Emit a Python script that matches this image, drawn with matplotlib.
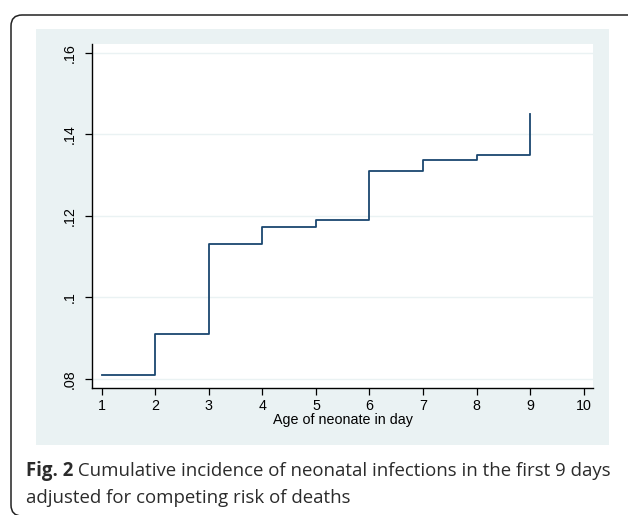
import matplotlib
matplotlib.use("Agg")
import matplotlib.pyplot as plt
from matplotlib.patches import FancyBboxPatch, Rectangle
from matplotlib.transforms import IdentityTransform

days = [1, 2, 3, 4, 5, 6, 7, 8, 9]
cif = [0.081, 0.091, 0.1132, 0.1173, 0.1189, 0.1311, 0.1336, 0.1349, 0.145]
xticks = [1, 2, 3, 4, 5, 6, 7, 8, 9, 10]
yticks = [0.08, 0.10, 0.12, 0.14, 0.16]
ylabels = [".08", ".1", ".12", ".14", ".16"]
xlabel = "Age of neonate in day"
cap_bold = "Fig. 2"
cap_line1 = " Cumulative incidence of neonatal infections in the first 9 days"
cap_line2 = "adjusted for competing risk of deaths"

W, H = 628, 515
fig = plt.figure(figsize=(W / 100, H / 100), dpi=100)
fig.patch.set_facecolor("white")

def fx(px):
    return px / W

def fy(py):
    return 1 - py / H

# outer rounded border (pixel coordinates, origin bottom-left)
border = FancyBboxPatch((11, H - 516), 700, 516 - 15,
                        boxstyle="round,pad=0,rounding_size=11",
                        transform=IdentityTransform(), facecolor="none",
                        edgecolor="#222222", linewidth=1.1, zorder=0)
fig.patches.append(border)

# Stata panel background
panel = Rectangle((fx(36), fy(445)), fx(609) - fx(36), fy(29) - fy(445),
                  transform=fig.transFigure, facecolor="#EAF2F3", edgecolor="none",
                  zorder=0)
fig.patches.append(panel)

ax = fig.add_axes([fx(92), fy(388), fx(593) - fx(92), fy(44) - fy(388)])
ax.set_zorder(5)
ax.set_facecolor("white")
ax.step(days, cif, where="post", color="#1a476f", linewidth=1.3)

fs = 10.3
ax.set_xlim(0.819, 10.174)
ax.set_ylim(0.0778, 0.1621)
ax.set_xticks(xticks)
ax.set_xticklabels([str(x) for x in xticks], fontsize=fs, family="Liberation Sans")
ax.set_yticks(yticks)
ax.set_yticklabels(ylabels, fontsize=fs, family="Liberation Sans", rotation=90, va="center")
ax.grid(axis="y", color="#EAF2F3", linewidth=1.0)
ax.set_axisbelow(True)
for s in ["top", "right"]:
    ax.spines[s].set_visible(False)
for s in ["left", "bottom"]:
    ax.spines[s].set_color("#000000")
    ax.spines[s].set_linewidth(1.0)
ax.tick_params(axis="both", direction="out", length=5, width=0.9, color="#000000")
ax.tick_params(axis="x", pad=3)
ax.tick_params(axis="y", pad=6)
ax.set_xlabel(xlabel, fontsize=fs, family="Liberation Sans", labelpad=0)

# caption
fig.canvas.draw()
r = fig.canvas.get_renderer()
cs = 13.4
ccol = "#2b2b2b"
t1 = fig.text(fx(26), fy(476), cap_bold, fontsize=cs, fontweight="bold",
              family="Open Sans", color=ccol, va="baseline", ha="left")
bb = t1.get_window_extent(renderer=r)
fig.text(bb.x1 / W, fy(476), cap_line1, fontsize=cs, family="Open Sans",
         color=ccol, va="baseline", ha="left")
fig.text(fx(26), fy(503), cap_line2, fontsize=cs, family="Open Sans",
         color=ccol, va="baseline", ha="left")

fig.savefig("out.png", dpi=100)
